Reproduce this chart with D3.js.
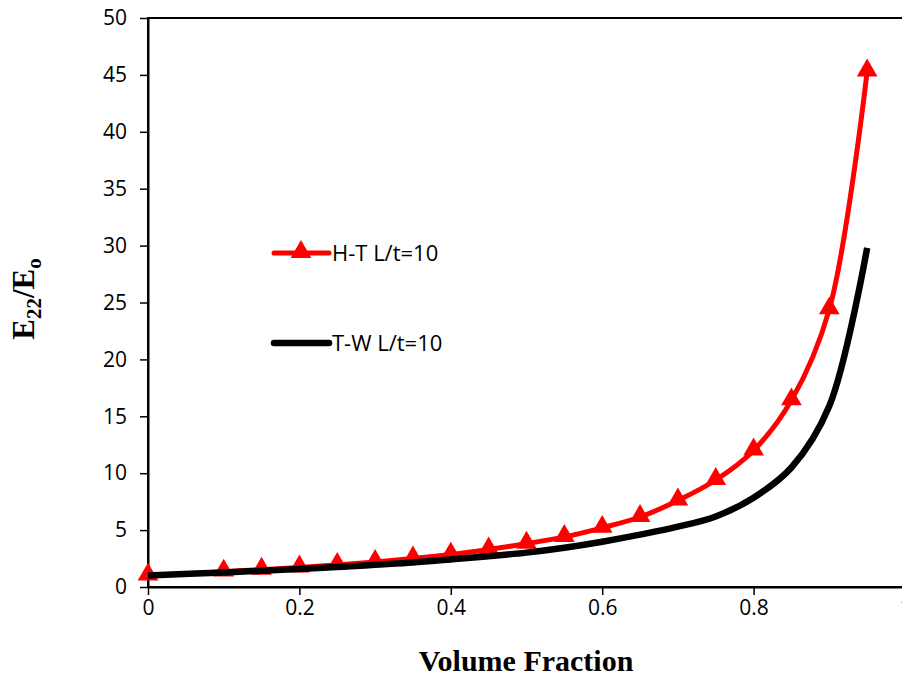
<!DOCTYPE html>
<html>
<head>
<meta charset="utf-8">
<script src="https://cdn.jsdelivr.net/npm/d3@7/dist/d3.min.js"></script>
<style>
  html, body { margin: 0; padding: 0; background: #fff; }
  svg { display: block; }
</style>
</head>
<body>
<div id="chart"></div>
<script>
// ---- data ----
const volumeFraction = [0, 0.1, 0.15, 0.2, 0.25, 0.3, 0.35, 0.4, 0.45, 0.5, 0.55, 0.6, 0.65, 0.7, 0.75, 0.8, 0.85, 0.9, 0.95];
const htValues = [1.0, 1.35, 1.52, 1.72, 1.95, 2.2, 2.5, 2.85, 3.3, 3.8, 4.4, 5.2, 6.15, 7.6, 9.4, 12.0, 16.4, 24.4, 45.3];
const twValues = [1.0, 1.28, 1.42, 1.58, 1.75, 1.95, 2.15, 2.42, 2.7, 3.02, 3.45, 3.98, 4.6, 5.3, 6.2, 7.85, 10.5, 15.9, 29.8];
const seriesNames = ["H-T L/t=10", "T-W L/t=10"];
const xTicks = [0, 0.2, 0.4, 0.6, 0.8, 1];
const yTicks = [0, 5, 10, 15, 20, 25, 30, 35, 40, 45, 50];

const W = 902, H = 677;
const plot = { left: 148, right: 905, top: 18, bottom: 587 };

const svg = d3.select("#chart").append("svg").attr("width", W).attr("height", H);

const x = d3.scaleLinear().domain([0, 1]).range([plot.left, plot.right]);
const y = d3.scaleLinear().domain([0, 50]).range([plot.bottom, plot.top]);

const tickFont = "Open Sans, sans-serif";
const tickSize = 21;

// frame (top border; right is outside the window)
svg.append("rect")
  .attr("x", plot.left).attr("y", plot.top)
  .attr("width", plot.right - plot.left).attr("height", plot.bottom - plot.top)
  .attr("fill", "none").attr("stroke", "#000").attr("stroke-width", 2);

// axes
const xAxis = d3.axisBottom(x).tickValues(xTicks).tickSizeOuter(0).tickSizeInner(8).tickPadding(5)
  .tickFormat(d => d3.format("")(d));
const gx = svg.append("g").attr("transform", `translate(0,${plot.bottom})`).call(xAxis);
gx.select(".domain").attr("stroke-width", 2);
gx.selectAll(".tick line").attr("stroke-width", 1.5);
gx.selectAll("text").attr("font-family", tickFont).attr("font-size", tickSize).attr("fill", "#000");

const yAxis = d3.axisLeft(y).tickValues(yTicks).tickSizeOuter(0).tickSizeInner(8).tickPadding(13);
const gy = svg.append("g").attr("transform", `translate(${plot.left},0)`).call(yAxis);
gy.select(".domain").attr("stroke-width", 2);
gy.selectAll(".tick line").attr("stroke-width", 1.5);
gy.selectAll("text").attr("font-family", tickFont).attr("font-size", tickSize).attr("fill", "#000");

// series
const lineGen = d3.line().x(d => x(d[0])).y(d => y(d[1])).curve(d3.curveCatmullRom.alpha(0.5));
const htData = volumeFraction.map((v, i) => [v, htValues[i]]);
const twData = volumeFraction.map((v, i) => [v, twValues[i]]);

const tri = d3.symbol().type(d3.symbolTriangle).size(185);

svg.append("path").datum(htData).attr("d", lineGen)
  .attr("fill", "none").attr("stroke", "#ff0000").attr("stroke-width", 5);
svg.append("g").selectAll("path").data(htData).join("path")
  .attr("d", tri)
  .attr("transform", d => `translate(${x(d[0])},${y(d[1]) - 1})`)
  .attr("fill", "#ff0000");

svg.append("path").datum(twData).attr("d", lineGen)
  .attr("fill", "none").attr("stroke", "#000").attr("stroke-width", 6.5);

// legend
const legend = svg.append("g");
const legItems = [
  { name: seriesNames[0], color: "#ff0000", width: 5, marker: true, y: 253 },
  { name: seriesNames[1], color: "#000", width: 6.5, marker: false, y: 343 }
];
legItems.forEach(it => {
  legend.append("line").attr("x1", 274).attr("x2", 329).attr("y1", it.y).attr("y2", it.y)
    .attr("stroke", it.color).attr("stroke-width", it.width).attr("stroke-linecap", "round");
  if (it.marker) {
    legend.append("path").attr("d", tri).attr("transform", `translate(301,${it.y - 1})`).attr("fill", it.color);
  }
  legend.append("text").attr("x", 332).attr("y", it.y).attr("dy", "0.35em")
    .attr("font-family", tickFont).attr("font-size", 22).attr("fill", "#000").text(it.name);
});

// axis titles
svg.append("text").attr("x", 526).attr("y", 671)
  .attr("text-anchor", "middle").attr("font-family", "Liberation Serif, Times New Roman, serif")
  .attr("font-weight", "bold").attr("font-size", 30).text("Volume Fraction");

const yt = svg.append("text")
  .attr("transform", "translate(34,299) rotate(-90)")
  .attr("text-anchor", "middle").attr("font-family", "Liberation Serif, Times New Roman, serif")
  .attr("font-weight", "bold").attr("font-size", 31);
yt.append("tspan").text("E");
yt.append("tspan").attr("font-size", 21).attr("dy", 7).text("22");
yt.append("tspan").attr("dy", -7).text("/E");
yt.append("tspan").attr("font-size", 21).attr("dy", 7).text("o");
</script>
</body>
</html>
